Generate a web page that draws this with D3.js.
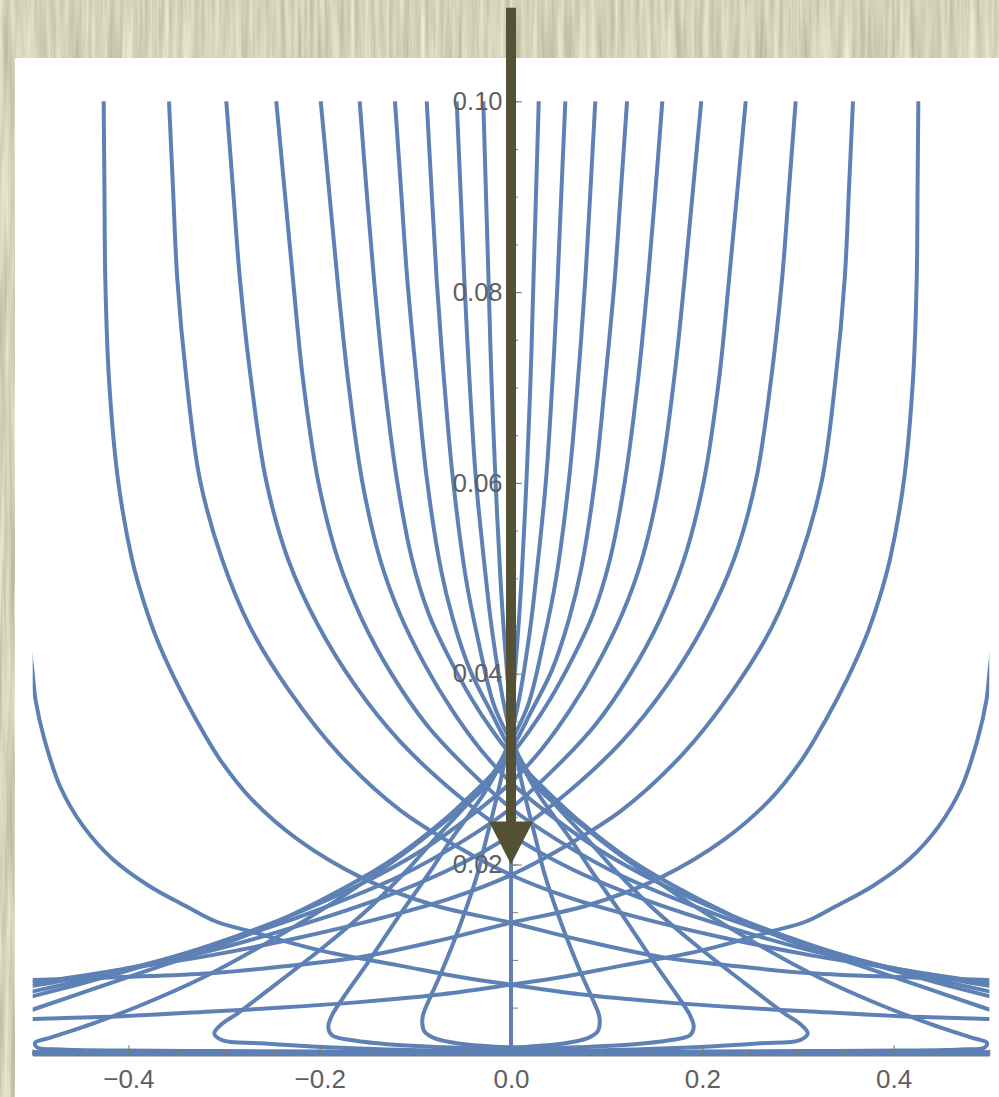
<!DOCTYPE html>
<html>
<head>
<meta charset="utf-8">
<script src="https://cdn.jsdelivr.net/npm/d3@7"></script>
<style>
  html, body { margin: 0; padding: 0; background: #d4d3b8; }
  svg { display: block; }
</style>
</head>
<body>
<svg id="chart" width="999" height="1097"></svg>
<script>
// Each ray is stored as its left-starting half: it enters at the top at x = -a,
// crosses the axis, runs down to the right and back along the floor to x = 0.
// The other half is the mirror image (x -> -x). A null marks a break where the
// path leaves the frame and the floor strand comes back in.
const ray0 = [[0, 0.1], [0, 0]];

const ray1 = [[-0.029,0.1],[-0.0263,0.0908],[-0.0235,0.0813],[-0.0204,0.0708],[-0.0162,0.0603],[-0.011,0.0499],[-0.0068,0.0436],[0,0.0357],[0.0073,0.0305],[0.0167,0.0263],[0.0261,0.0226],[0.0348,0.0191],[0.0523,0.0139],[0.0732,0.0086],[0.0857,0.0058],[0.092,0.0042],[0.0927,0.0033],[0.0906,0.0025],[0.0802,0.0018],[0.0523,0.0012],[0.0175,0.0009],[0,0.00084]];

const ray2 = [[-0.0568,0.1],[-0.0528,0.0908],[-0.0488,0.0813],[-0.0434,0.0708],[-0.0366,0.0603],[-0.0272,0.0509],[-0.0199,0.0446],[-0.0084,0.0373],[0,0.0336],[0.0115,0.0305],[0.0272,0.0276],[0.0439,0.0252],[0.0627,0.0226],[0.0836,0.0194],[0.115,0.0149],[0.1498,0.0097],[0.1743,0.0062],[0.1871,0.0042],[0.191,0.003],[0.1871,0.0021],[0.1673,0.0016],[0.122,0.0011],[0.0697,0.00084],[0,0.00063]];

const ray3 = [[-0.0881,0.1],[-0.0831,0.0908],[-0.0777,0.0813],[-0.07,0.0708],[-0.0606,0.0603],[-0.047,0.0499],[-0.0345,0.0436],[-0.0178,0.0367],[0,0.0329],[0.0199,0.0294],[0.046,0.0263],[0.0802,0.0226],[0.1087,0.0194],[0.1464,0.0156],[0.1952,0.0114],[0.2439,0.0076],[0.2857,0.0044],[0.3021,0.0033],[0.3102,0.0023],[0.3021,0.0016],[0.2613,0.00126],[0.1916,0.00084],[0.1045,0.00056],[0,0.00045]];

const ray4 = [[-0.1213,0.1],[-0.115,0.0908],[-0.1084,0.0813],[-0.0986,0.0708],[-0.0878,0.0603],[-0.0732,0.0509],[-0.0606,0.0457],[-0.0429,0.0404],[-0.022,0.0362],[0,0.032],[0.0303,0.0278],[0.0669,0.0247],[0.1139,0.021],[0.1767,0.0166],[0.2498,0.0121],[0.323,0.0081],[0.3857,0.0053],[0.438,0.0033],[0.4798,0.0019],[0.4976,0.0013],[0.4955,0.00084],[0.4694,0.00061],[0.4067,0.0005],[0.3021,0.00045],[0.1976,0.0004],[0.093,0.00035],[0,0.00035]];

const ray5 = [[-0.1582,0.1],[-0.1511,0.0908],[-0.1432,0.0813],[-0.1328,0.0708],[-0.1192,0.0603],[-0.1035,0.052],[-0.0857,0.0462],[-0.0638,0.0415],[-0.0408,0.0373],[-0.0199,0.0341],[0,0.0315],[0.0303,0.0284],[0.0721,0.0245],[0.1244,0.0205],[0.1976,0.0163],[0.2812,0.0124],[0.3648,0.0094],[0.438,0.0069],[0.4997,0.0048],[0.5216,0.004], null, [0.5216,0.00032],[0.25,0.00031],[0,0.0003]];

const ray6 = [[-0.1989,0.1],[-0.1903,0.0908],[-0.1814,0.0813],[-0.1704,0.0708],[-0.1558,0.0603],[-0.1369,0.052],[-0.116,0.0462],[-0.0899,0.0409],[-0.0617,0.0362],[-0.0314,0.032],[0,0.0286],[0.0408,0.0252],[0.093,0.0215],[0.1558,0.018],[0.2289,0.0147],[0.3126,0.0116],[0.4067,0.0087],[0.4997,0.0062],[0.5216,0.0057], null, [0.5216,0.00029],[0.25,0.00028],[0,0.00027]];

const ray7 = [[-0.2454,0.1],[-0.2368,0.0908],[-0.2279,0.0813],[-0.2174,0.0708],[-0.2018,0.0603],[-0.1809,0.052],[-0.1558,0.0457],[-0.1244,0.0399],[-0.0878,0.0346],[-0.046,0.0301],[0,0.0259],[0.0512,0.0224],[0.1139,0.0189],[0.1871,0.0158],[0.2708,0.0128],[0.3648,0.01],[0.4997,0.0067],[0.5216,0.0063], null, [0.5216,0.00026],[0.25,0.00025],[0,0.00024]];

const ray8 = [[-0.2976,0.1],[-0.2906,0.0908],[-0.2833,0.0813],[-0.2718,0.0708],[-0.2561,0.0603],[-0.2331,0.052],[-0.2018,0.0451],[-0.1631,0.0388],[-0.116,0.0329],[-0.0585,0.0275],[0,0.0231],[0.0617,0.0196],[0.1349,0.0165],[0.2185,0.0137],[0.3126,0.011],[0.4067,0.009],[0.4997,0.0073],[0.5216,0.007], null, [0.5216,0.00023],[0.25,0.00022],[0,0.00021]];

const ray9 = [[-0.3575,0.1],[-0.3533,0.0908],[-0.3488,0.0813],[-0.3392,0.0708],[-0.3251,0.0603],[-0.3021,0.052],[-0.2728,0.0449],[-0.231,0.0381],[-0.1788,0.0315],[-0.116,0.0257],[-0.0533,0.0217],[0,0.0189],[0.0617,0.0165],[0.1349,0.0144],[0.2185,0.0124],[0.3126,0.0105],[0.4067,0.009],[0.4997,0.0076],[0.5216,0.0074], null, [0.5216,0.0002],[0.25,0.00019],[0,0.00019]];

const ray10 = [[-0.4258,0.1],[-0.425,0.0908],[-0.4241,0.0813],[-0.4202,0.0708],[-0.4108,0.0603],[-0.3962,0.052],[-0.3847,0.0478],[-0.3701,0.0436],[-0.3513,0.0394],[-0.3293,0.0352],[-0.3042,0.031],[-0.2708,0.0268],[-0.2227,0.0226],[-0.1558,0.0186],[-0.0794,0.0157],[0,0.0139],[0.0721,0.0121],[0.1568,0.0103],[0.2394,0.0093],[0.3136,0.0086],[0.4067,0.0082],[0.4997,0.0079],[0.5216,0.0078], null, [0.5216,0.00018],[0.25,0.00017],[0,0.00017]];

const ray11 = [[-0.62,0.1],[-0.57,0.07],[-0.535,0.052],[-0.513,0.0457],[-0.5048,0.0436],[-0.5007,0.0407],[-0.4971,0.0373],[-0.4877,0.0331],[-0.471,0.0281],[-0.4471,0.024],[-0.4157,0.0205],[-0.3774,0.0177],[-0.339,0.0156],[-0.3077,0.014],[-0.2728,0.013],[-0.1997,0.011],[-0.116,0.0094],[-0.0533,0.0082],[0,0.0074],[0.0721,0.0064],[0.1558,0.0056],[0.2394,0.005],[0.3136,0.0046],[0.4067,0.0041],[0.4997,0.0038],[0.5216,0.0037], null, [0.5216,0.00016],[0.25,0.00015],[0,0.00015]];

// Falling-direction arrow along the axis
const arrowFrom = [0, 0.1098];
const arrowTo = [0, 0.02];

// Axis ticks and labels
const xMajorTicks = [-0.4, -0.2, 0, 0.2, 0.4];
const xTickLabels = ["\u22120.4", "\u22120.2", "0.0", "0.2", "0.4"];
const yMajorTicks = [0.02, 0.04, 0.06, 0.08, 0.10];
const yTickLabels = ["0.02", "0.04", "0.06", "0.08", "0.10"];

const rays = [ray0, ray1, ray2, ray3, ray4, ray5, ray6, ray7, ray8, ray9, ray10, ray11];

const W = 999, H = 1097;
const svg = d3.select("#chart");
const defs = svg.append("defs");

// streaky paper backdrop
const paper = defs.append("filter").attr("id", "paper")
  .attr("x", 0).attr("y", 0).attr("width", "100%").attr("height", "100%")
  .attr("color-interpolation-filters", "sRGB");
paper.append("feTurbulence").attr("type", "fractalNoise")
  .attr("baseFrequency", "0.2 0.008").attr("numOctaves", 3).attr("seed", 11).attr("result", "n");
paper.append("feColorMatrix").attr("in", "n").attr("type", "matrix")
  .attr("values", "0.28 0 0 0 0.69  0.28 0 0 0 0.686  0.28 0 0 0 0.582  0 0 0 0 1");
svg.append("rect").attr("width", W).attr("height", H).attr("filter", "url(#paper)");
svg.append("rect").attr("x", 15).attr("y", 58).attr("width", W - 15).attr("height", H - 58).attr("fill", "#ffffff");

const x = d3.scaleLinear().domain([-0.5, 0.5]).range([32.7, 989.3]);
const y = d3.scaleLinear().domain([0, 0.1]).range([1055.3, 101.3]);

defs.append("clipPath").attr("id", "plotClip").append("rect")
  .attr("x", x(-0.5)).attr("y", y(0.1) - 1.5)
  .attr("width", x(0.5) - x(-0.5)).attr("height", y(0) - y(0.1) + 3);

const axisColor = "#7b7b7b";
const labelColor = "#5f5f5f";
const fontFamily = "'Liberation Sans', Arial, Helvetica, sans-serif";

// vertical axis line sits beneath the rays
svg.append("line")
  .attr("x1", x(0)).attr("x2", x(0)).attr("y1", y(0)).attr("y2", y(0.1))
  .attr("stroke", axisColor).attr("stroke-width", 1);

const lineL = d3.line().defined(d => d !== null)
  .x(d => x(d[0])).y(d => y(d[1])).curve(d3.curveCatmullRom.alpha(0.5));
const lineR = d3.line().defined(d => d !== null)
  .x(d => x(-d[0])).y(d => y(d[1])).curve(d3.curveCatmullRom.alpha(0.5));

const gRays = svg.append("g").attr("clip-path", "url(#plotClip)")
  .attr("fill", "none").attr("stroke", "#5e81b5").attr("stroke-width", 4)
  .attr("stroke-linejoin", "round");
rays.forEach(r => {
  gRays.append("path").attr("d", lineL(r));
  gRays.append("path").attr("d", lineR(r));
});

// x axis: minor then major ticks, pointing up into the plot
const gx = svg.append("g").attr("transform", `translate(0,${y(0)})`).style("color", axisColor);
gx.append("g").call(d3.axisBottom(x).tickValues(x.ticks(20)).tickSizeInner(-6).tickSizeOuter(0).tickFormat(""));
gx.append("g").call(d3.axisBottom(x).tickValues(xMajorTicks).tickSizeInner(-10).tickSizeOuter(0)
  .tickPadding(14).tickFormat((d, i) => xTickLabels[i]));
gx.selectAll("path.domain").attr("stroke-width", 1);
gx.selectAll("text").attr("fill", labelColor).style("font-family", fontFamily).style("font-size", "26px");

// y axis at x = 0: ticks to the right, labels to the left
const gy = svg.append("g").attr("transform", `translate(${x(0)},0)`).style("color", axisColor);
gy.append("g").call(d3.axisLeft(y).tickValues(y.ticks(20).filter(v => v > 0)).tickSizeInner(-7).tickSizeOuter(0).tickFormat(""));
gy.append("g").call(d3.axisLeft(y).tickValues(yMajorTicks).tickSizeInner(-11).tickSizeOuter(0)
  .tickPadding(8.5).tickFormat((d, i) => yTickLabels[i]));
gy.selectAll("path.domain").remove();
gy.selectAll("text").attr("fill", labelColor).style("font-family", fontFamily).style("font-size", "25.5px");

// arrow
const arrowColor = "#555135";
const headLen = 43, headHalf = 22;
const ax = x(arrowFrom[0]), ay0 = y(arrowFrom[1]), ay1 = y(arrowTo[1]);
svg.append("line")
  .attr("x1", ax).attr("x2", ax).attr("y1", ay0).attr("y2", ay1 - headLen + 2)
  .attr("stroke", arrowColor).attr("stroke-width", 10);
svg.append("path")
  .attr("d", `M${ax - headHalf},${ay1 - headLen}L${ax + headHalf},${ay1 - headLen}L${ax},${ay1}Z`)
  .attr("fill", arrowColor);
</script>
</body>
</html>
